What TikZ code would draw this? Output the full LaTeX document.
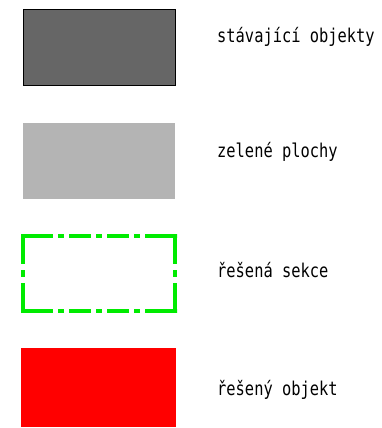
\documentclass[tikz,border=0pt]{standalone}
\usepackage{fontspec}
\newfontfamily\legendfont[FakeStretch=0.81]{DejaVu Sans Mono}
\usetikzlibrary{positioning}
\definecolor{stavgray}{RGB}{102, 102, 102}
\definecolor{zelgray}{RGB}{180, 180, 180}
\definecolor{sekgreen}{RGB}{0, 235, 0}
\definecolor{objred}{RGB}{255, 0, 0}

\begin{document}
\begin{tikzpicture}[x=1pt, y=-1pt,
  legtext/.style={anchor=base west, inner sep=0pt, font=\legendfont\fontsize{19}{22}\selectfont},
  sekline/.style={sekgreen, line width=3.6pt}]
  \useasboundingbox (0,0) rectangle (382,428);
  % vzorky
  \filldraw[fill=stavgray, draw=black, line width=0.8pt] (23,9.5) rectangle (175,85.5);
  \fill[zelgray] (23,123) rectangle (175,199);
  \draw[sekline, dash pattern=on 31.8pt off 5pt on 6pt off 5pt on 22pt off 5pt on 6pt off 5pt on 22pt off 5pt on 6pt off 5pt on 31.8pt off 0pt]
    (21.2,236) -- (176.8,236);
  \draw[sekline, dash pattern=on 31.8pt off 5pt on 6pt off 5pt on 22pt off 5pt on 6pt off 5pt on 22pt off 5pt on 6pt off 5pt on 31.8pt off 0pt]
    (21.2,311) -- (176.8,311);
  \draw[sekline, dash pattern=on 28pt off 6pt on 7pt off 6pt on 28pt off 0pt] (23,236) -- (23,311);
  \draw[sekline, dash pattern=on 28pt off 6pt on 7pt off 6pt on 28pt off 0pt] (175,236) -- (175,311);
  \fill[objred] (21,348) rectangle (176,427);
  % popisky
  \node[legtext] (stav) at (217,43) {stávající objekty};
  \node[legtext] (zel) at (217,157) {zelené plochy};
  \node[legtext] (sek) at (217,277) {řešená sekce};
  \node[legtext] (obj) at (217,395) {řešený objekt};
\end{tikzpicture}
\end{document}
